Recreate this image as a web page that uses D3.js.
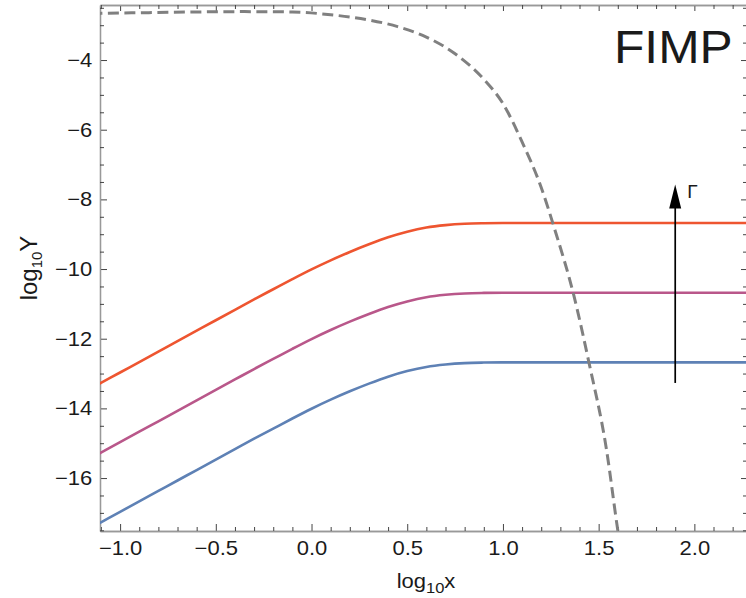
<!DOCTYPE html>
<html>
<head>
<meta charset="utf-8">
<script src="https://d3js.org/d3.v7.min.js"></script>
<style>
  html, body { margin: 0; background: #fff; overflow: hidden; }
  svg { display: block; }
  text { font-family: "Liberation Sans", Arial, sans-serif; fill: #1a1a1a; }
</style>
</head>
<body>
<div id="chart"></div>
<script>
const width = 746,
      height = 598,
      margin = { top: 5, right: -1, bottom: 67, left: 100 };

const innerWidth = width - (margin.right + margin.left),
      innerHeight = height - (margin.top + margin.bottom);

// curves (log10 x -> log10 Y)
const curveX = [-1.15, -1.1, -1.0, -0.9, -0.8, -0.7, -0.6, -0.5, -0.4, -0.3, -0.2, -0.1,
                0.0, 0.1, 0.2, 0.3, 0.4, 0.5, 0.6, 0.7, 0.8, 0.9, 1.0, 1.2, 2.3];
const redY = [-13.42, -13.27, -12.97, -12.67, -12.37, -12.07, -11.77, -11.47, -11.17, -10.87, -10.58, -10.29,
              -10.01, -9.75, -9.51, -9.29, -9.09, -8.93, -8.81, -8.74, -8.70, -8.685, -8.68, -8.68, -8.68];
const purpleY = [-15.42, -15.27, -14.97, -14.67, -14.37, -14.07, -13.77, -13.47, -13.17, -12.87, -12.58, -12.29,
                 -12.01, -11.75, -11.51, -11.29, -11.09, -10.93, -10.81, -10.74, -10.70, -10.685, -10.68, -10.68, -10.68];
const blueY = [-17.42, -17.27, -16.97, -16.67, -16.37, -16.07, -15.77, -15.47, -15.17, -14.87, -14.58, -14.29,
               -14.01, -13.75, -13.51, -13.29, -13.09, -12.93, -12.81, -12.74, -12.70, -12.685, -12.68, -12.68, -12.68];

// dashed equilibrium curve
const eqX = [-1.15, -1.1, -0.85, -0.6, -0.35, -0.1, 0.1, 0.3, 0.45, 0.6, 0.75, 0.9, 1.0, 1.1, 1.2, 1.27,
             1.37, 1.45, 1.54, 1.6, 1.65];
const eqY = [-2.67, -2.66, -2.64, -2.62, -2.61, -2.62, -2.70, -2.85, -3.04, -3.34, -3.82, -4.55, -5.25, -6.35,
             -7.66, -8.85, -10.75, -12.70, -15.15, -17.50, -19.2];

const xTicks = [-1.0, -0.5, 0.0, 0.5, 1.0, 1.5, 2.0],
      xTickLabels = ['\u22121.0', '\u22120.5', '0.0', '0.5', '1.0', '1.5', '2.0'];
const yTicks = [-16, -14, -12, -10, -8, -6, -4],
      yTickLabels = ['\u221216', '\u221214', '\u221212', '\u221210', '\u22128', '\u22126', '\u22124'];

// arrow annotation: x position, from / to (log10 Y)
const arrowX = 1.9, arrowFrom = -13.27, arrowTo = -7.57;

const svg = d3.select('#chart').append('svg')
    .attr('width', width)
    .attr('height', height);

const plot = svg.append('g')
    .attr('transform', `translate(${margin.left}, ${margin.top})`);

const xScale = d3.scaleLinear()
    .domain([-1.105, 2.275])
    .range([0, innerWidth]);
const yScale = d3.scaleLinear()
    .domain([-17.52, -2.42])
    .range([innerHeight, 0]);

const xMinor = d3.range(-11, 23).map(d => d / 10).filter(d => Math.abs(d * 2 - Math.round(d * 2)) > 1e-6);
const yMinor = d3.range(-35, -4).map(d => d / 2).filter(d => d % 2 !== 0);

function styleAxis(g) {
  g.select('.domain').attr('stroke', '#999').attr('stroke-width', 1.3);
  g.selectAll('.tick line').attr('stroke', '#444').attr('stroke-width', 1);
  g.selectAll('.tick text')
    .attr('font-size', 20)
    .attr('fill', '#1a1a1a')
    .attr('transform', 'scale(1.1,1)');
}

// ticks only, no labels
function bare(g) {
  styleAxis(g);
  g.selectAll('.tick text').remove();
}

// bottom + top
plot.append('g')
    .attr('transform', `translate(0, ${innerHeight})`)
    .call(d3.axisBottom(xScale).tickValues(xTicks).tickFormat((d, i) => xTickLabels[i])
      .tickSize(-7).tickSizeOuter(0).tickPadding(10))
    .call(styleAxis);
plot.append('g')
    .attr('transform', `translate(0, ${innerHeight})`)
    .call(d3.axisBottom(xScale).tickValues(xMinor).tickSize(-4).tickSizeOuter(0))
    .call(bare);
plot.append('g')
    .call(d3.axisTop(xScale).tickValues(xTicks).tickSize(-6).tickSizeOuter(0))
    .call(bare);
plot.append('g')
    .call(d3.axisTop(xScale).tickValues(xMinor).tickSize(-4).tickSizeOuter(0))
    .call(bare);

// left + right
plot.append('g')
    .call(d3.axisLeft(yScale).tickValues(yTicks).tickFormat((d, i) => yTickLabels[i])
      .tickSize(-7).tickSizeOuter(0).tickPadding(7))
    .call(styleAxis);
plot.append('g')
    .call(d3.axisLeft(yScale).tickValues(yMinor).tickSize(-4).tickSizeOuter(0))
    .call(bare);
plot.append('g')
    .attr('transform', `translate(${innerWidth}, 0)`)
    .call(d3.axisRight(yScale).tickValues(yTicks).tickSize(-6).tickSizeOuter(0))
    .call(bare);
plot.append('g')
    .attr('transform', `translate(${innerWidth}, 0)`)
    .call(d3.axisRight(yScale).tickValues(yMinor).tickSize(-4).tickSizeOuter(0))
    .call(bare);

plot.append('clipPath').attr('id', 'clip')
  .append('rect').attr('width', innerWidth).attr('height', innerHeight);

const line = d3.line()
    .x(d => xScale(d[0]))
    .y(d => yScale(d[1]))
    .curve(d3.curveMonotoneX);

const curves = plot.append('g').attr('clip-path', 'url(#clip)');

const series = [
  { values: blueY, color: '#5e81b5' },
  { values: purpleY, color: '#b9578a' },
  { values: redY, color: '#ee5530' }
];

curves.selectAll('.fimp')
  .data(series)
  .enter().append('path')
    .attr('class', 'fimp')
    .attr('fill', 'none')
    .attr('stroke', d => d.color)
    .attr('stroke-width', 2.6)
    .attr('d', d => line(curveX.map((x, i) => [x, d.values[i]])));

curves.append('path')
    .attr('fill', 'none')
    .attr('stroke', '#808080')
    .attr('stroke-width', 3)
    .attr('stroke-dasharray', '11,5.5')
    .attr('d', line(eqX.map((x, i) => [x, eqY[i]])));

// arrow
const ax = xScale(arrowX),
      tipY = yScale(arrowTo),
      headLen = 24,
      headHalf = 6;
plot.append('line')
    .attr('x1', ax).attr('x2', ax)
    .attr('y1', yScale(arrowFrom)).attr('y2', tipY + headLen - 2)
    .attr('stroke', '#000')
    .attr('stroke-width', 1.7);
plot.append('path')
    .attr('d', `M${ax},${tipY} L${ax + headHalf},${tipY + headLen} L${ax - headHalf},${tipY + headLen} Z`)
    .attr('fill', '#000');
plot.append('text')
    .attr('x', ax + 12)
    .attr('y', tipY + 14)
    .attr('font-size', 19)
    .text('\u0393');

// label
svg.append('text')
    .attr('transform', 'translate(614, 63) scale(1.08,1)')
    .attr('font-size', 46)
    .attr('fill', '#000')
    .text('FIMP');

// axis titles
const xTitle = svg.append('text')
    .attr('transform', 'translate(426, 588) scale(1.1,1)')
    .attr('text-anchor', 'middle')
    .attr('font-size', 20);
xTitle.append('tspan').text('log');
xTitle.append('tspan').attr('font-size', 15).attr('dy', 5).text('10');
xTitle.append('tspan').attr('dy', -5).text('x');

const yTitle = svg.append('text')
    .attr('transform', 'translate(37, 268) rotate(-90)')
    .attr('text-anchor', 'middle')
    .attr('font-size', 24);
yTitle.append('tspan').text('log');
yTitle.append('tspan').attr('font-size', 15).attr('dy', 5).text('10');
yTitle.append('tspan').attr('dy', -5).text('Y');
</script>
</body>
</html>
